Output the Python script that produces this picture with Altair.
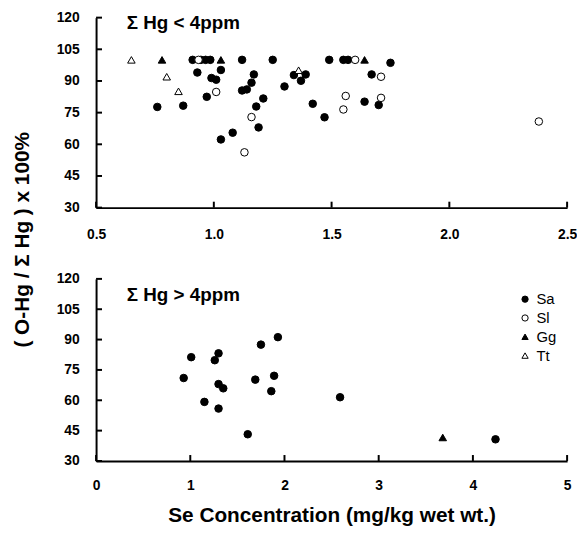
import altair as alt
import pandas as pd

# ---- data ----
top_sp = (["Sa"] * 35) + (["Sl"] * 10) + (["Gg"] * 3) + (["Tt"] * 4)
top_x = [0.76, 0.87, 0.91, 0.945, 0.965, 0.985, 0.93, 0.99, 1.01, 1.03, 0.97, 1.03, 1.08, 1.19, 1.18,
         1.21, 1.12, 1.14, 1.16, 1.17, 1.12, 1.25, 1.30, 1.34, 1.39, 1.37, 1.42, 1.47, 1.49, 1.55,
         1.57, 1.67, 1.64, 1.70, 1.75,
         0.935, 1.01, 1.13, 1.16, 1.60, 1.71, 1.56, 1.71, 1.55, 2.38,
         0.78, 1.03, 1.64,
         0.65, 0.80, 0.85, 1.36]
top_y = [77.7, 78.3, 100, 100, 100, 100, 94.0, 91.4, 90.6, 95.2, 82.5, 62.3, 65.5, 68.0, 77.9,
         81.7, 85.5, 86.0, 89.2, 93.1, 100, 100, 87.4, 92.8, 93.1, 90.1, 79.2, 72.8, 100, 100,
         100, 93.1, 80.2, 78.6, 98.6,
         100, 84.8, 56.2, 72.9, 100, 92.0, 82.9, 82.0, 76.5, 70.8,
         100, 100, 100,
         100, 92.0, 85.1, 95.1]

bot_sp = (["Sa"] * 16) + ["Gg"]
bot_x = [0.93, 1.01, 1.15, 1.26, 1.30, 1.30, 1.35, 1.30, 1.61, 1.69, 1.75, 1.86, 1.89, 1.93, 2.59, 4.24,
         3.68]
bot_y = [71.0, 81.3, 59.2, 79.8, 83.2, 68.0, 65.9, 55.9, 43.2, 70.2, 87.5, 64.5, 72.1, 91.2, 61.5, 40.7,
         41.6]

species = ["Sa", "Sl", "Gg", "Tt"]
shapes = ["circle", "circle", "triangle-up", "triangle-up"]
fills = ["black", "white", "black", "white"]
strokes = ["black", "black", "black", "black"]

y_ticks = [30, 45, 60, 75, 90, 105, 120]
top_x_ticks = [0.5, 1.0, 1.5, 2.0, 2.5]
bot_x_ticks = [0, 1, 2, 3, 4, 5]
panel_titles = ["\u03a3 Hg < 4ppm", "\u03a3 Hg > 4ppm"]
y_title = "( O-Hg / \u03a3 Hg ) x 100%"
x_title = "Se Concentration (mg/kg wet wt.)"

FONT = "Liberation Sans"
W = 476
H_TOP = 192
H_BOT = 184

top_df = pd.DataFrame({"sp": top_sp, "x": top_x, "y": top_y})
bot_df = pd.DataFrame({"sp": bot_sp, "x": bot_x, "y": bot_y})
yt_df = pd.DataFrame({"v": y_ticks})

shape_scale = alt.Scale(domain=species, range=shapes)
fill_scale = alt.Scale(domain=species, range=fills)
stroke_scale = alt.Scale(domain=species, range=strokes)

leg = alt.Legend(title=None, orient="none", legendX=426, legendY=277, labelFont=FONT,
                 labelFontSize=15, labelColor="black", symbolSize=40,
                 symbolStrokeWidth=1, rowPadding=3, labelOffset=4)


def panel(df, xdom, xticks, xfmt, h, title, xtitle, ytitle, lab_pad, title_y):
    xs = alt.Scale(domain=xdom, nice=False, zero=False)
    ys = alt.Scale(domain=[30, 120], nice=False, zero=False)
    xaxis_kwargs = dict(values=xticks, format=xfmt, ticks=False, grid=False, domainColor="black",
                        domainWidth=2, labelFont=FONT, labelFontWeight="bold", labelFontSize=14,
                        labelColor="black", labelPadding=lab_pad, labelFlush=False,
                        labelOverlap=False)
    if xtitle:
        xaxis_kwargs.update(title=xtitle, titleFont=FONT, titleFontWeight="bold", titleFontSize=21,
                            titleColor="black", titlePadding=12)
    else:
        xaxis_kwargs.update(title=None)
    xaxis = alt.Axis(**xaxis_kwargs)
    yaxis_kwargs = dict(values=y_ticks, ticks=False, grid=False, domainColor="black", domainWidth=2,
                        labelFont=FONT, labelFontWeight="bold", labelFontSize=14, labelColor="black",
                        labelPadding=17, labelFlush=False, labelOverlap=False)
    if ytitle:
        yaxis_kwargs.update(title=ytitle, titleFont=FONT, titleFontWeight="bold", titleFontSize=21,
                            titleColor="black", titleAngle=270, titleAlign="center",
                            titleBaseline="middle", titleX=-74, titleY=224)
    else:
        yaxis_kwargs.update(title=None)
    yaxis = alt.Axis(**yaxis_kwargs)

    pts = alt.Chart(df).mark_point(filled=True, size=58, strokeWidth=1, opacity=1).encode(
        x=alt.X("x:Q", scale=xs, axis=xaxis),
        y=alt.Y("y:Q", scale=ys, axis=yaxis),
        shape=alt.Shape("sp:N", scale=shape_scale, legend=leg),
        fill=alt.Fill("sp:N", scale=fill_scale, legend=leg),
        stroke=alt.Stroke("sp:N", scale=stroke_scale, legend=leg),
    )
    ytk = alt.Chart(yt_df).mark_rule(color="black", strokeWidth=2).encode(
        y=alt.Y("v:Q", scale=ys, axis=yaxis), x=alt.value(0), x2=alt.value(6))
    xtk = alt.Chart(pd.DataFrame({"x": xticks})).mark_rule(color="black", strokeWidth=2).encode(
        x=alt.X("x:Q", scale=xs, axis=xaxis), y=alt.value(h), y2=alt.value(h - 6))
    ttl = alt.Chart(pd.DataFrame({"t": [title]})).mark_text(
        font=FONT, fontWeight="bold", fontSize=19, align="left", baseline="middle",
        color="black").encode(text="t:N", x=alt.value(31), y=alt.value(title_y))
    return alt.layer(pts, ytk, xtk, ttl).properties(width=W, height=h)


top = panel(top_df, [0.5, 2.5], top_x_ticks, ".1f", H_TOP, panel_titles[0], None, y_title, 20, 5)
bot = panel(bot_df, [0, 5], bot_x_ticks, "d", H_BOT, panel_titles[1], x_title, None, 18, 16)

chart = alt.vconcat(top, bot, spacing=72, bounds="flush").properties(
    padding={"left": 4, "top": 0, "right": 0, "bottom": 0}, background="white"
).configure_view(stroke=None)

chart.save("out.html", embed_options={"renderer": "svg", "actions": False})
